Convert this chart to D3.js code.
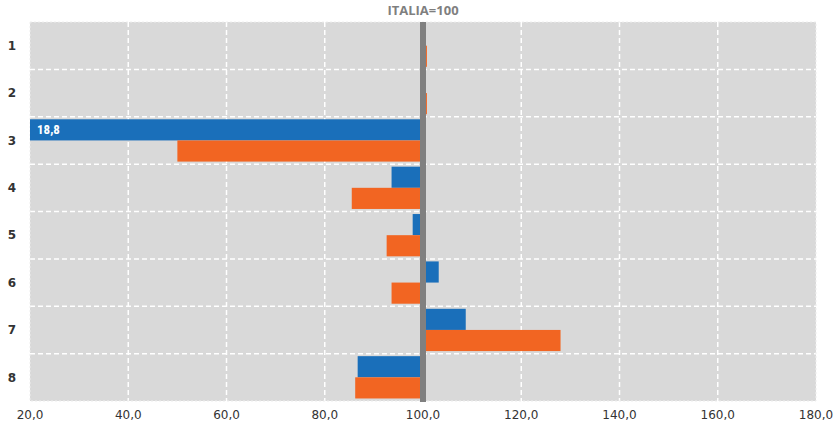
<!DOCTYPE html>
<html>
<head>
<meta charset="utf-8">
<script src="https://cdn.jsdelivr.net/npm/d3@7"></script>
<style>
  html, body { margin: 0; padding: 0; background: #fff; }
  svg { display: block; }
</style>
</head>
<body>
<div id="chart"></div>
<script>
// ---- data (ITALIA = 100) ----
const categories = ['1', '2', '3', '4', '5', '6', '7', '8'];
const blueValues = [100, 100, 18.8, 93.6, 97.9, 103.2, 108.7, 86.7];
const orangeValues = [100.8, 100.8, 50.0, 85.5, 92.6, 93.6, 128.0, 86.2];
const xTicks = [20, 40, 60, 80, 100, 120, 140, 160, 180];
const baseline = 100;

const W = 837, H = 425;
const margin = { top: 22, right: 21, bottom: 24, left: 30 };

const svg = d3.select('#chart').append('svg')
    .attr('width', W).attr('height', H);

const x = d3.scaleLinear()
    .domain([20, 180])
    .range([margin.left, W - margin.right])
    .clamp(true);

const y = d3.scaleBand()
    .domain(categories)
    .range([margin.top, H - margin.bottom]);

const sub = d3.scaleBand()
    .domain(['blue', 'orange'])
    .range([0, y.bandwidth()])
    .paddingOuter(0.12);

// plot background
svg.append('rect')
    .attr('x', x(20)).attr('y', margin.top)
    .attr('width', x(180) - x(20)).attr('height', H - margin.bottom - margin.top)
    .attr('fill', '#d9d9d9');

// vertical dashed grid
svg.append('g')
    .selectAll('line')
    .data(xTicks.filter(d => d > 20 && d < 180))
    .join('line')
    .attr('x1', d => x(d)).attr('x2', d => x(d))
    .attr('y1', margin.top).attr('y2', H - margin.bottom)
    .attr('stroke', '#fff').attr('stroke-width', 1.5)
    .attr('stroke-dasharray', '5,3');

// horizontal dashed grid between categories
svg.append('g')
    .selectAll('line')
    .data(categories.slice(1))
    .join('line')
    .attr('x1', x(20)).attr('x2', x(180))
    .attr('y1', d => y(d)).attr('y2', d => y(d))
    .attr('stroke', '#fff').attr('stroke-width', 1.5)
    .attr('stroke-dasharray', '5,3');

// plot border (faint dashes)
svg.append('rect')
    .attr('x', x(20)).attr('y', margin.top)
    .attr('width', x(180) - x(20)).attr('height', H - margin.bottom - margin.top)
    .attr('fill', 'none').attr('stroke', '#eeeeee').attr('stroke-width', 1)
    .attr('stroke-dasharray', '2,2');

// bars
const series = [
    { key: 'blue', color: '#1a6fba', values: blueValues },
    { key: 'orange', color: '#f26522', values: orangeValues }
];

series.forEach(s => {
    svg.append('g')
        .selectAll('rect')
        .data(categories.map((c, i) => ({ cat: c, v: s.values[i] })))
        .join('rect')
        .attr('x', d => Math.min(x(d.v), x(baseline)))
        .attr('y', d => y(d.cat) + sub(s.key))
        .attr('width', d => Math.abs(x(d.v) - x(baseline)))
        .attr('height', sub.bandwidth())
        .attr('fill', s.color);
});

// label for the clipped bar
svg.append('text')
    .attr('x', x(20) + 7)
    .attr('y', y('3') + sub('blue') + sub.bandwidth() / 2)
    .attr('dy', '0.35em')
    .attr('font-family', '"Liberation Sans Narrow", "Roboto Condensed", Roboto, sans-serif')
    .attr('font-size', '13px').attr('font-weight', 'bold')
    .attr('fill', '#fff')
    .text(d3.format('.1f')(blueValues[2]).replace('.', ','));

// ITALIA = 100 reference line
svg.append('line')
    .attr('x1', x(baseline)).attr('x2', x(baseline))
    .attr('y1', margin.top).attr('y2', H - margin.bottom + 1)
    .attr('stroke', '#808080').attr('stroke-width', 6);

svg.append('text')
    .attr('x', x(baseline)).attr('y', 15)
    .attr('text-anchor', 'middle')
    .attr('font-family', '"Open Sans", "DejaVu Sans", sans-serif')
    .attr('font-size', '13px').attr('font-weight', 'bold')
    .attr('fill', '#7f7f7f')
    .text('ITALIA=100');

// category labels
svg.append('g')
    .selectAll('text')
    .data(categories)
    .join('text')
    .attr('x', 12)
    .attr('y', d => y(d) + y.bandwidth() / 2)
    .attr('dy', '0.35em')
    .attr('text-anchor', 'middle')
    .attr('font-family', '"DejaVu Sans", sans-serif')
    .attr('font-size', '12px').attr('font-weight', 'bold')
    .attr('fill', '#333')
    .text(d => d);

// x tick labels
svg.append('g')
    .selectAll('text')
    .data(xTicks)
    .join('text')
    .attr('x', d => x(d))
    .attr('y', H - 6)
    .attr('text-anchor', 'middle')
    .attr('font-family', '"DejaVu Sans", sans-serif')
    .attr('font-size', '12px')
    .attr('fill', '#333')
    .text(d => d3.format('.1f')(d).replace('.', ','));
</script>
</body>
</html>
